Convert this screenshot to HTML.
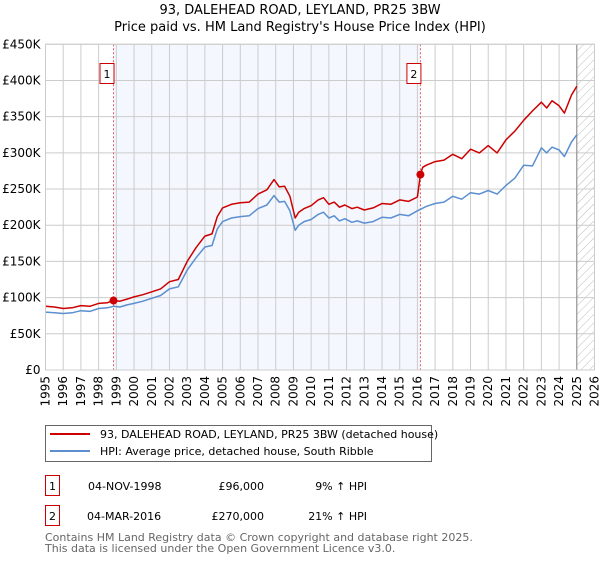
<!DOCTYPE html>
<html><head><meta charset="utf-8"><style>
body{margin:0;background:#fff;font-family:"DejaVu Sans","Liberation Sans",sans-serif;}
svg text{font-family:"DejaVu Sans","Liberation Sans",sans-serif;}
</style></head><body>
<svg id="chart" width="600" height="560" viewBox="0 0 600 560" xmlns="http://www.w3.org/2000/svg">
<defs><pattern id="hatch" width="6" height="6" patternUnits="userSpaceOnUse" patternTransform="rotate(45)"><line x1="0" y1="0" x2="0" y2="6" stroke="#bbb" stroke-width="1"/></pattern></defs>
<text x="300" y="14" text-anchor="middle" font-size="13">93, DALEHEAD ROAD, LEYLAND, PR25 3BW</text>
<text x="300" y="31" text-anchor="middle" font-size="13">Price paid vs. HM Land Registry's House Price Index (HPI)</text>
<g id="plot"></g>
<g>
<rect x="45.5" y="425.5" width="386" height="36" fill="#fff" stroke="#666"/>
<line x1="50" y1="434" x2="90" y2="434" stroke="#cc0000" stroke-width="2"/>
<text x="100" y="438" font-size="11">93, DALEHEAD ROAD, LEYLAND, PR25 3BW (detached house)</text>
<line x1="50" y1="451" x2="90" y2="451" stroke="#5b8fd0" stroke-width="2"/>
<text x="100" y="455" font-size="11">HPI: Average price, detached house, South Ribble</text>
</g>
<g font-size="11">
<rect x="45.5" y="475.5" width="14" height="20" fill="#fff" stroke="#cc0000"/>
<text x="52.5" y="490" text-anchor="middle">1</text>
<text x="88" y="490">04-NOV-1998</text>
<text x="264" y="490" text-anchor="end">£96,000</text>
<text x="367" y="490" text-anchor="end">9% ↑ HPI</text>
<rect x="45.5" y="505.5" width="14" height="20" fill="#fff" stroke="#cc0000"/>
<text x="52.5" y="520" text-anchor="middle">2</text>
<text x="87" y="520">04-MAR-2016</text>
<text x="264" y="520" text-anchor="end">£270,000</text>
<text x="367" y="520" text-anchor="end">21% ↑ HPI</text>
</g>
<text x="45" y="541" font-size="11" fill="#666">Contains HM Land Registry data © Crown copyright and database right 2025.</text>
<text x="45" y="552" font-size="11" fill="#666">This data is licensed under the Open Government Licence v3.0.</text>
</svg>
<script>
const hpiYears=[1995,1995.5,1996,1996.5,1997,1997.5,1998,1998.5,1998.84,1999.2,1999.6,2000,2000.5,2001,2001.5,2002,2002.5,2003,2003.5,2004,2004.4,2004.7,2005,2005.5,2006,2006.5,2007,2007.5,2007.9,2008.2,2008.5,2008.8,2009.1,2009.3,2009.6,2010,2010.4,2010.7,2011,2011.3,2011.6,2011.9,2012.3,2012.6,2013,2013.5,2014,2014.5,2015,2015.5,2016,2016.17,2016.5,2017,2017.5,2018,2018.5,2019,2019.5,2020,2020.5,2021,2021.5,2022,2022.5,2023,2023.3,2023.6,2024,2024.3,2024.7,2025];
const hpiValues=[80,79,78,79,82,81,85,86,88,87,90,92,95,99,103,112,115,138,155,170,172,195,205,210,212,213,223,228,241,232,233,220,193,200,205,208,215,218,210,213,206,209,204,206,203,205,211,210,215,213,220,222,226,230,232,240,236,245,243,248,243,255,265,283,282,307,300,308,304,295,315,325];
const priceYears=[1995,1995.5,1996,1996.5,1997,1997.5,1998,1998.5,1998.84,1999.2,1999.6,2000,2000.5,2001,2001.5,2002,2002.5,2003,2003.5,2004,2004.4,2004.7,2005,2005.5,2006,2006.5,2007,2007.5,2007.9,2008.2,2008.5,2008.8,2009.1,2009.3,2009.6,2010,2010.4,2010.7,2011,2011.3,2011.6,2011.9,2012.3,2012.6,2013,2013.5,2014,2014.5,2015,2015.5,2016,2016.17,2016.3,2016.5,2017,2017.5,2018,2018.5,2019,2019.5,2020,2020.5,2021,2021.5,2022,2022.5,2023,2023.3,2023.6,2024,2024.3,2024.7,2025];
const priceValues=[88,87,85,86,89,88,92,93,96,95,98,101,104,108,112,122,125,150,169,185,188,212,224,229,231,232,243,249,263,253,254,240,210,218,223,227,235,238,229,232,225,228,223,225,221,224,230,229,235,233,239,270,280,283,288,290,298,292,305,300,310,300,318,330,345,358,370,362,372,365,355,380,392];
const yTicks=[0,50,100,150,200,250,300,350,400,450];
const yTickLabels=["£0","£50K","£100K","£150K","£200K","£250K","£300K","£350K","£400K","£450K"];
const xTicks=[1995,1996,1997,1998,1999,2000,2001,2002,2003,2004,2005,2006,2007,2008,2009,2010,2011,2012,2013,2014,2015,2016,2017,2018,2019,2020,2021,2022,2023,2024,2025,2026];
const saleYears=[1998.84,2016.17];
const salePrices=[96,270];
const saleLabels=["1","2"];
const dataEnd=2025.0;

const X0=45.5,X1=594.5,Y0=370,Y1=44.3;
const xs=y=>X0+(y-1995)/(2026-1995)*(X1-X0);
const ys=v=>Y0-v/450*(Y0-Y1);
const NS="http://www.w3.org/2000/svg";
const g=document.getElementById('plot');
function mk(t,a){const e=document.createElementNS(NS,t);for(const k in a)e.setAttribute(k,a[k]);g.appendChild(e);return e;}
const shade=mk('rect',{x:xs(saleYears[0]),y:Y1,width:xs(saleYears[1])-xs(saleYears[0]),height:Y0-Y1,fill:'#f4f7fe'});


const hat=mk('rect',{x:xs(dataEnd),y:Y1,width:X1-xs(dataEnd),height:Y0-Y1,fill:'url(#hatch)'});


yTicks.forEach((v,i)=>{
  const l=mk('line',{x1:X0,x2:X1,y1:ys(v),y2:ys(v),stroke:'#ccc','stroke-width':1});
  
  
  const t=mk('text',{x:X0-5,y:ys(v)+4,'text-anchor':'end','font-size':12});
  t.textContent=yTickLabels[i];
  
  
});
xTicks.forEach(yr=>{
  const l=mk('line',{x1:xs(yr),x2:xs(yr),y1:Y1,y2:Y0,stroke:'#ccc','stroke-width':1});
  
  
  const t=mk('text',{x:0,y:0,'text-anchor':'end','font-size':12,transform:`translate(${xs(yr)+4},${Y0+6}) rotate(-90)`});
  t.textContent=yr;
  
  
});
const endL=mk('line',{x1:xs(dataEnd),x2:xs(dataEnd),y1:Y1,y2:Y0,stroke:'#888','stroke-width':1});


saleYears.forEach((yr,i)=>{
  const l=mk('line',{x1:xs(yr),x2:xs(yr),y1:Y1,y2:Y0,stroke:'#e06060','stroke-width':1,'stroke-dasharray':'2,2'});
  
  
});
const pts=(xa,va)=>xa.map((y,i)=>xs(y).toFixed(1)+','+ys(va[i]).toFixed(1)).join(' ');
const hl=mk('polyline',{points:pts(hpiYears,hpiValues),fill:'none',stroke:'#5b8fd0','stroke-width':1.5,'stroke-linejoin':'round'});


const pl=mk('polyline',{points:pts(priceYears,priceValues),fill:'none',stroke:'#cc0000','stroke-width':1.5,'stroke-linejoin':'round'});


saleYears.forEach((yr,i)=>{
  const c=mk('circle',{cx:xs(yr),cy:ys(salePrices[i]),r:4,fill:'#cc0000'});
  
  
  const r=mk('rect',{x:xs(yr)-13.5,y:63.5,width:14,height:20,fill:'#fff',stroke:'#cc0000'});
  
  
  const t=mk('text',{x:xs(yr)-6.5,y:78,'text-anchor':'middle','font-size':11});
  t.textContent=saleLabels[i];
  
  
});
const fr=mk('rect',{x:X0,y:Y1,width:X1-X0,height:Y0-Y1,fill:'none',stroke:'#ccc'});


</script>
</body></html>
